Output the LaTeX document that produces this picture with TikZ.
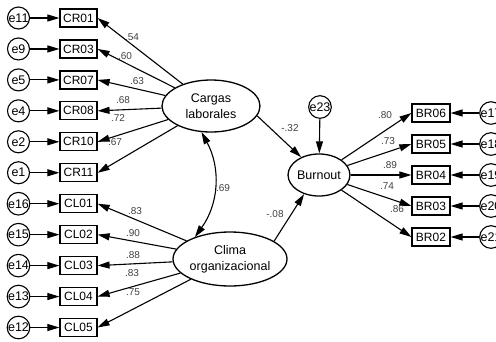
\documentclass[tikz,border=0pt]{standalone}
\usepackage{fontspec}
\setmainfont{Liberation Sans}
\usetikzlibrary{arrows.meta,shapes.geometric}
\begin{document}
\begin{tikzpicture}[x=1pt,y=-1pt,
  font=\fontsize{12}{14}\selectfont,
  ind/.style={draw,line width=1.2pt,minimum width=37pt,minimum height=18pt,inner sep=0pt},
  err/.style={draw,circle,line width=1.1pt,minimum size=22pt,inner sep=0pt,font=\fontsize{12.5}{14}\selectfont},
  lat/.style={draw,ellipse,line width=1.3pt,inner sep=0pt,align=center,font=\fontsize{12.5}{16}\selectfont},
  pth/.style={line width=1.1pt,-{Triangle[length=12pt,width=7pt]}},
  cov/.style={line width=1.1pt,{Triangle[length=12pt,width=7pt]}-{Triangle[length=12pt,width=7pt]}},
  lab/.style={font=\fontsize{10}{12}\selectfont,text=black!75,inner sep=0pt}]
\useasboundingbox (0,0) rectangle (496,341);

% latent variables
\node[lat,minimum width=98pt,minimum height=52pt] (C) at (211,106) {Cargas\\laborales};
\node[lat,minimum width=104pt,minimum height=54pt] (K) at (230,259) {Clima\\organizacional};
\node[lat,minimum width=60pt,minimum height=42pt] (B) at (319,175) {Burnout};
\node[err] (e23) at (320,107) {e23};

% left indicators
\foreach \n/\e/\i in {CR01/e11/0,CR03/e9/1,CR07/e5/2,CR08/e4/3,CR10/e2/4,CR11/e1/5,CL01/e16/6,CL02/e15/7,CL03/e14/8,CL04/e13/9,CL05/e12/10}{
  \node[ind] (\n) at (78.5,{18+30.95*\i}) {\n};
  \node[err] (\e) at (18.5,{18+30.95*\i}) {\e};
  \draw[pth] (\e) -- (\n);
}
% right indicators
\foreach \n/\e/\i in {BR06/e17/0,BR05/e18/1,BR04/e19/2,BR03/e20/3,BR02/e21/4}{
  \node[ind,minimum width=38pt] (\n) at (431,{113+31*\i}) {\n};
  \node[err] (\e) at (491,{113+31*\i}) {\e};
  \draw[pth] (\e) -- (\n);
}

% loadings
\foreach \n in {CR01,CR03,CR07,CR08,CR10,CR11}{\draw[pth] (C) -- (\n.east);}
\foreach \n in {CL01,CL02,CL03,CL04,CL05}{\draw[pth] (K) -- (\n.east);}
\foreach \n in {BR06,BR05,BR04,BR03,BR02}{\draw[pth] (B) -- (\n.west);}

% structural paths
\draw[pth] (C.-12) -- (B.135);
\draw[pth] (K.22) -- (B.232);
\draw[pth] (e23) -- (B);
\draw[cov] (C.250) to[bend left=32] (K.148);

% labels
\node[lab] at (132,37) {.54};
\node[lab] at (125,56) {.60};
\node[lab] at (137,81) {.63};
\node[lab] at (123,100) {.68};
\node[lab] at (118,118) {.72};
\node[lab] at (115,142) {.67};
\node[lab] at (135,211) {.83};
\node[lab] at (133,233) {.90};
\node[lab] at (133,255) {.88};
\node[lab] at (132,273) {.83};
\node[lab] at (133,292) {.75};
\node[lab] at (223,188) {.69};
\node[lab] at (290,128) {-.32};
\node[lab] at (275,214) {-.08};
\node[lab] at (385,115) {.80};
\node[lab] at (388,141) {.73};
\node[lab] at (390,165) {.89};
\node[lab] at (387,186) {.74};
\node[lab] at (397,209) {.86};
\end{tikzpicture}
\end{document}
